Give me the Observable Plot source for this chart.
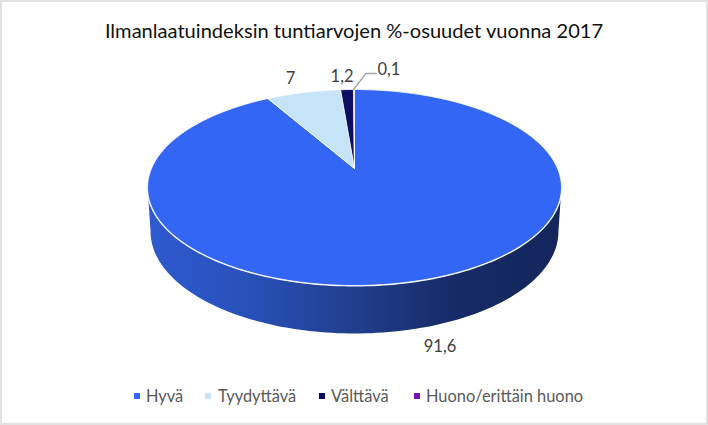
<!DOCTYPE html>
<html>
<head>
<meta charset="utf-8">
<script src="https://cdn.jsdelivr.net/npm/d3@7"></script>
<script src="https://cdn.jsdelivr.net/npm/@observablehq/plot@0.6"></script>
<style>
  html, body { margin: 0; padding: 0; background: #fff; }
  #chart { width: 708px; height: 425px; overflow: hidden; position: relative; font-family: Lato, sans-serif; box-shadow: inset 0 0 0 2px #e2e2e2; }
  #title { height: 50px; box-sizing: border-box; padding-top: 17px; text-align: center; font-size: 20.1px; line-height: 26px; color: #111; white-space: nowrap; }
  #plot svg { display: block; background: transparent; }
  #legend { height: 53px; position: relative; font-size: 16.4px; color: #595959; }
  #legend .item { position: absolute; top: 14px; line-height: 20px; white-space: nowrap; }
  #legend .swatch { position: absolute; top: 21px; width: 6px; height: 6px; }
</style>
</head>
<body>
<div id="chart">
  <div id="title"></div>
  <div id="plot"></div>
  <div id="legend"></div>
</div>
<script>
const chartTitle = "Ilmanlaatuindeksin tuntiarvojen %-osuudet vuonna 2017";
const categories = ["Hyvä", "Tyydyttävä", "Välttävä", "Huono/erittäin huono"];
const shares = [91.6, 7, 1.2, 0.1];
const shareLabels = ["91,6", "7", "1,2", "0,1"];
const sliceColors = ["#3366f5", "#c6e4f8", "#0a0f62", "#7a10b0"];
const legendSwatchLeft = [134, 205, 319, 414];
const legendTextLeft = [146, 218, 331, 426];

document.getElementById("title").textContent = chartTitle;

// Perspective of the tilted disc: a point on the unit circle to normalised chart position.
const k = 0.194, sx = 203 / 207, sy = 94.3 / 98, apexY = 19 / 98;
function project(theta) {
  const u = Math.sin(theta), v = Math.cos(theta), d = 1 + k * v;
  return { x: sx * u / d, y: apexY + sy * v / d };
}
function arc(t0, t1, n) {
  return d3.range(n + 1).map(i => project(t0 + (t1 - t0) * i / n));
}
const toBottom = p => ({ x: p.x * 204 / 207, y: -44 / 98 + p.y * 102 / 98 });

const total = d3.sum(shares);
let acc = 0;
const slices = categories.map((name, i) => {
  const t0 = acc / total * 2 * Math.PI;
  acc += shares[i];
  const t1 = acc / total * 2 * Math.PI;
  return { name, i, t0, t1, mid: (t0 + t1) / 2, label: shareLabels[i], color: sliceColors[i] };
});

const apex = { x: 0, y: apexY };
const topPoints = slices.flatMap(s =>
  [apex, ...arc(s.t0, s.t1, Math.max(2, Math.ceil((s.t1 - s.t0) * 60))), apex].map(p => ({ ...p, name: s.name, color: s.color }))
);

// Front wall between the widest points of the disc
const vWide = -k;
const tL = 2 * Math.PI - Math.acos(vWide), tR = Math.acos(vWide);
const frontTop = arc(tR, tL, 120);
const wall = [...frontTop, ...frontTop.slice().reverse().map(toBottom)];

const labelRows = slices.map(s => ({ ...s, ...project(s.mid) }));
labelRows[0] = { ...labelRows[0], ...toBottom(project(slices[0].mid)) };

const q = labelRows[3];
const leader = [
  { x: q.x - 0.002, y: q.y },
  { x: q.x + 12 / 207, y: q.y + 16 / 98 },
  { x: q.x + 22 / 207, y: q.y + 16 / 98 }
];

const gradientDefs = () => {
  const svg = d3.create("svg:defs");
  const g = svg.append("linearGradient").attr("id", "wallGrad").attr("x1", 0).attr("x2", 1).attr("y1", 0).attr("y2", 0);
  [[0, "#2d5ad0"], [0.25, "#2850b8"], [0.5, "#213e8c"], [0.75, "#162b66"], [1, "#13265c"]]
    .forEach(([o, c]) => g.append("stop").attr("offset", o).attr("stop-color", c));
  return svg.node();
};

const textStyle = { x: "x", y: "y", text: "label", fill: "#404040", fontFamily: "Lato, sans-serif", fontSize: 16.5 };

const plot = Plot.plot({
  width: 708,
  height: 322,
  margin: 0,
  style: { background: "transparent" },
  x: { domain: [-1, 1], range: [147, 561], axis: null },
  y: { domain: [-1, 1], range: [235, 39], axis: null },
  marks: [
    gradientDefs,
    Plot.line(wall, { x: "x", y: "y", fill: "url(#wallGrad)", stroke: null, curve: "linear" }),
    Plot.line(frontTop, { x: "x", y: "y", stroke: "#fff", strokeWidth: 2, curve: "linear" }),
    Plot.line(topPoints, { x: "x", y: "y", z: "name", fill: "color", stroke: "#fff", strokeWidth: 0.8, curve: "linear" }),
    Plot.line(leader, { x: "x", y: "y", stroke: "#a6a6a6", strokeWidth: 1.3, curve: "linear" }),
    Plot.text(labelRows.filter(d => d.i === 0), { ...textStyle, dx: 22, dy: 18 }),
    Plot.text(labelRows.filter(d => d.i === 1), { ...textStyle, dx: -13, dy: -14 }),
    Plot.text(labelRows.filter(d => d.i === 2), { ...textStyle, dx: -5, dy: -13 }),
    Plot.text(labelRows.filter(d => d.i === 3), { ...textStyle, dx: 35, dy: -20 })
  ]
});
document.getElementById("plot").appendChild(plot);

const legend = d3.select("#legend");
categories.forEach((name, i) => {
  legend.append("div").attr("class", "swatch").style("left", legendSwatchLeft[i] + "px").style("background", sliceColors[i]);
  legend.append("div").attr("class", "item").style("left", legendTextLeft[i] + "px").text(name);
});
</script>
</body>
</html>
